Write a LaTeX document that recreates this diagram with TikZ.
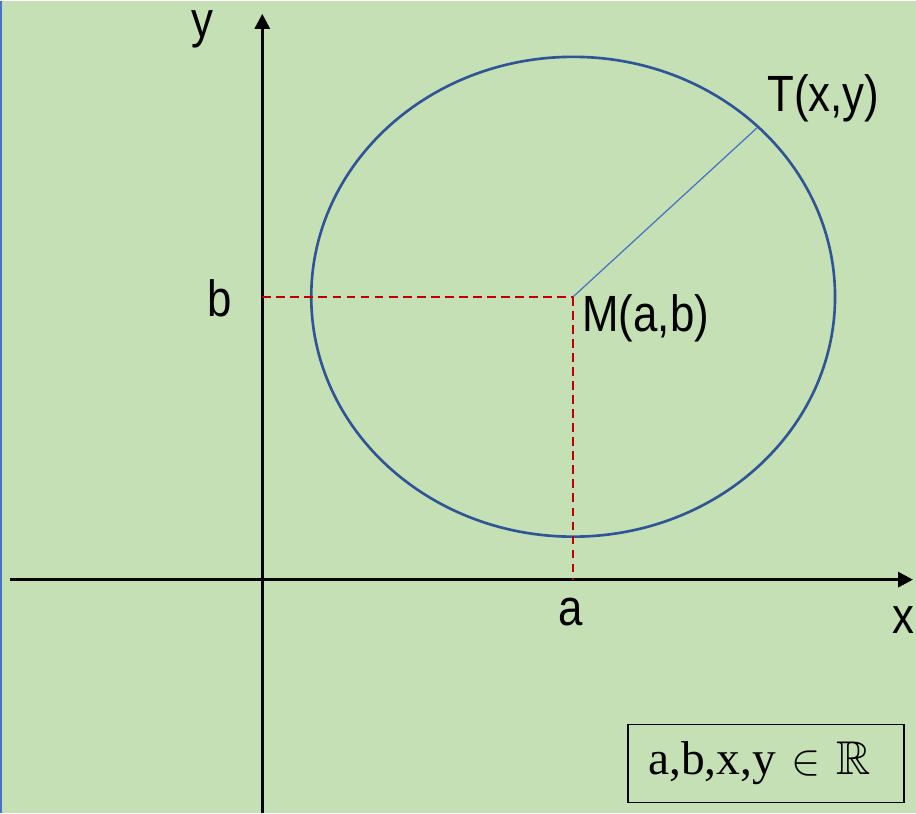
\documentclass[tikz,border=0pt]{standalone}
\usepackage{amsmath,amssymb}
\usepackage{graphicx}
\usepackage{fontspec}
\setmainfont{Liberation Sans}
\newfontfamily\boxfont{Liberation Serif}
\usetikzlibrary{arrows.meta}

\definecolor{bggreen}{HTML}{C5E0B4}
\definecolor{circblue}{HTML}{2F5597}
\definecolor{radblue}{HTML}{4472C4}
\definecolor{dashred}{HTML}{C00000}

\newcommand{\narrow}[1]{\scalebox{0.86}[1]{#1}}

\tikzset{
  axis/.style={line width=1.7pt,-{Triangle[length=8.5pt,width=8.5pt]}},
  guide/.style={dashred,line width=1.1pt,dash pattern=on 5pt off 3pt},
  lbl/.style={font=\fontsize{29}{30}\selectfont,inner sep=0pt}
}

\begin{document}
\begin{tikzpicture}[x=0.02cm,y=-0.02cm]

% Background
\fill[bggreen] (0,0) rectangle (916,812);
\draw[radblue,line width=1pt] (0.5,0)--(0.5,812);
\useasboundingbox (0,0) rectangle (916,812);

% Points
\coordinate (M) at (573,296);
\coordinate (T) at (757,127);
\coordinate (A) at (573,579);
\coordinate (B) at (262,296);
\coordinate (xstart) at (10,579);
\coordinate (xend) at (913,579);
\coordinate (ystart) at (262,812);
\coordinate (yend) at (262,13);

% Axes
\draw[axis] (xstart)--(xend);
\draw[axis] (ystart)--(yend);
\node[lbl] (xlab) at (903,619) {\narrow{x}};
\node[lbl] (ylab) at (202,28) {\narrow{y}};

% Circle
\draw[circblue,line width=1.5pt] (M) ellipse [x radius=262,y radius=240];

% Radius
\draw[radblue,line width=0.7pt] (M)--(T);

% Projections
\draw[guide] (B)--(M);
\draw[guide] (M)--(A);

% Labels
\node[lbl] (alab) at (571,611) {\narrow{a}};
\node[lbl] (blab) at (219,298) {\narrow{b}};
\node[lbl,anchor=west] (Mlab) at (582,318) {\narrow{M(a,b)}};
\node[lbl,anchor=west] (Tlab) at (767,97) {\narrow{T(x,y)}};

% Domain box
\node[draw,line width=1pt,text width=236*0.02cm,inner xsep=20*0.02cm,
  minimum height=78*0.02cm,align=left,
  font=\boxfont\fontsize{27}{29}\selectfont] (dom) at (766,763) {a,b,x,y $\in$ $\mathbb{R}$};

\end{tikzpicture}
\end{document}
